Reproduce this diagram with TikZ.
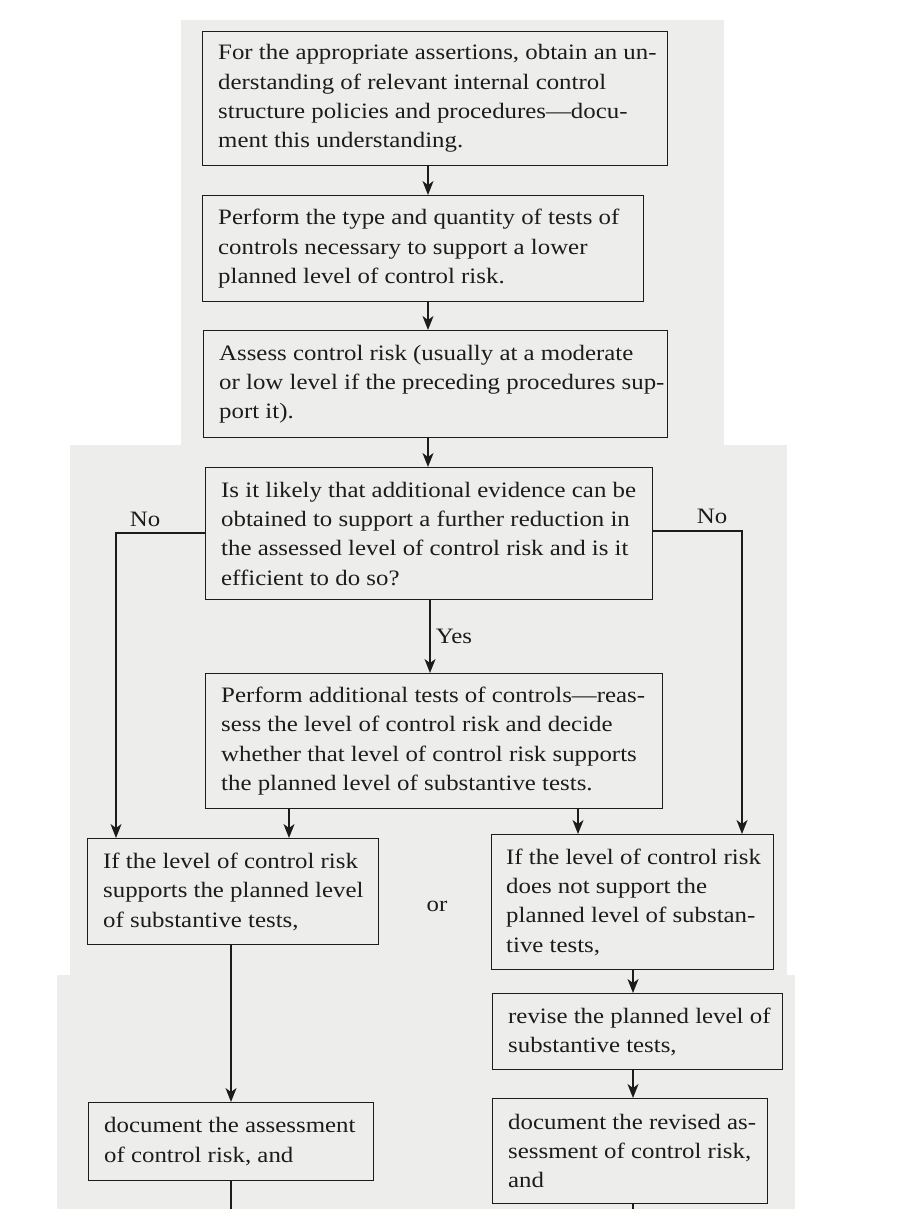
\documentclass[tikz,border=0pt]{standalone}
\usepackage{fontspec}
\setmainfont{Liberation Serif}[FakeStretch=1.13]
\usetikzlibrary{arrows.meta,calc}
\definecolor{bg}{RGB}{237,237,235}
\definecolor{ink}{RGB}{28,28,28}
\begin{document}
\begin{tikzpicture}[x=1pt,y=-1pt,
  boxnode/.style={draw=ink, line width=1.3pt, rectangle, anchor=north west, inner sep=0pt},
  txt/.style={anchor=west, align=left, inner sep=0pt, text=ink, font=\fontsize{22}{29.3}\selectfont},
  lab/.style={inner sep=0pt, text=ink, font=\fontsize{22}{29.3}\selectfont},
  conn/.style={draw=ink, line width=1.3pt},
  arr/.style={conn, -{Stealth[length=14pt,width=11pt,inset=4pt]}}]
\useasboundingbox (0,0) rectangle (897,1209);
\fill[white] (0,0) rectangle (897,1209);
\fill[bg] (181,20) rectangle (724,445);
\fill[bg] (70,445) rectangle (787,975);
\fill[bg] (57,975) rectangle (795,1209);

% boxes
\node[boxnode, minimum width=465pt, minimum height=134pt] (b1) at (202,31) {};
\node[boxnode, minimum width=441pt, minimum height=106pt] (b2) at (202,195) {};
\node[boxnode, minimum width=464pt, minimum height=107pt] (b3) at (203,330) {};
\node[boxnode, minimum width=447pt, minimum height=132pt] (b4) at (205,467) {};
\node[boxnode, minimum width=457pt, minimum height=135pt] (b6) at (205,673) {};
\node[boxnode, minimum width=291pt, minimum height=106pt] (b5) at (87,838) {};
\node[boxnode, minimum width=282pt, minimum height=135pt] (b7) at (491,834) {};
\node[boxnode, minimum width=290pt, minimum height=76pt] (b8) at (492,993) {};
\node[boxnode, minimum width=285pt, minimum height=78pt] (b9) at (88,1102) {};
\node[boxnode, minimum width=275pt, minimum height=105pt] (b10) at (492,1098) {};

% texts
\node[txt] (t1) at ($(b1.west)+(16,0)$) {For the appropriate assertions, obtain an un-\\derstanding of relevant internal control\\structure policies and procedures—docu-\\ment this understanding.};
\node[txt] (t2) at ($(b2.west)+(16,0)$) {Perform the type and quantity of tests of\\controls necessary to support a lower\\planned level of control risk.};
\node[txt] (t3) at ($(b3.west)+(16,0)$) {Assess control risk (usually at a moderate\\or low level if the preceding procedures sup-\\port it).};
\node[txt] (t4) at ($(b4.west)+(16,0)$) {Is it likely that additional evidence can be\\obtained to support a further reduction in\\the assessed level of control risk and is it\\efficient to do so?};
\node[txt] (t6) at ($(b6.west)+(16,0)$) {Perform additional tests of controls—reas-\\sess the level of control risk and decide\\whether that level of control risk supports\\the planned level of substantive tests.};
\node[txt] (t5) at ($(b5.west)+(16,0)$) {If the level of control risk\\supports the planned level\\of substantive tests,};
\node[txt] (t7) at ($(b7.west)+(15,0)$) {If the level of control risk\\does not support the\\planned level of substan-\\tive tests,};
\node[txt] (t8) at ($(b8.west)+(16,0)$) {revise the planned level of\\substantive tests,};
\node[txt] (t9) at ($(b9.west)+(16,0)$) {document the assessment\\of control risk, and};
\node[txt] (t10) at ($(b10.west)+(16,0)$) {document the revised as-\\sessment of control risk,\\and};

% labels
\node[lab] (noL) at (145,519) {No};
\node[lab] (noR) at (712,516) {No};
\node[lab] (yes) at (454,636) {Yes};
\node[lab] (or) at (437,906) {or};

% guide coordinates
\coordinate (xa) at (428,0);
\coordinate (xy) at (430,0);
\coordinate (cL) at (116,533);
\coordinate (cR) at (742,531);
\coordinate (x5) at (289,0);
\coordinate (x7) at (578,0);
\coordinate (x9) at (231,0);
\coordinate (x8) at (633,0);
\coordinate (endL) at (231,1209);
\coordinate (endR) at (633,1209);

% connectors
\draw[arr] (b1.south -| xa) -- (b2.north -| xa);
\draw[arr] (b2.south -| xa) -- (b3.north -| xa);
\draw[arr] (b3.south -| xa) -- (b4.north -| xa);
\draw[arr] (b4.south -| xy) -- (b6.north -| xy);
\draw[arr] (b4.west |- cL) -| (b5.north -| cL);
\draw[arr] (b4.east |- cR) -| (b7.north -| cR);
\draw[arr] (b6.south -| x5) -- (b5.north -| x5);
\draw[arr] (b6.south -| x7) -- (b7.north -| x7);
\draw[arr] (b5.south -| x9) -- (b9.north -| x9);
\draw[arr] (b7.south -| x8) -- (b8.north -| x8);
\draw[arr] (b8.south -| x8) -- (b10.north -| x8);
\draw[conn] (b9.south -| endL) -- (endL);
\draw[conn] (b10.south -| endR) -- (endR);
\end{tikzpicture}
\end{document}
